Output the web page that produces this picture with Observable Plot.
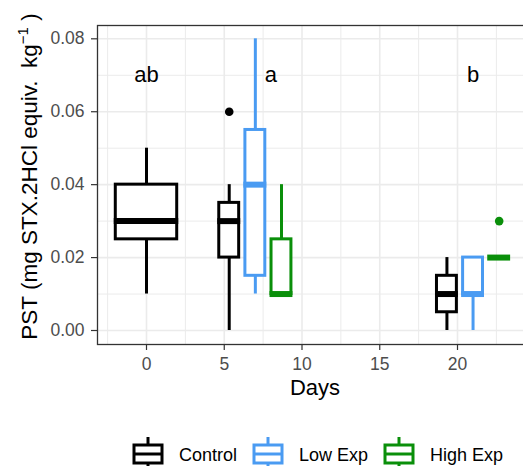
<!DOCTYPE html>
<html>
<head>
<meta charset="utf-8">
<script src="https://cdn.jsdelivr.net/npm/d3@7"></script>
<script src="https://cdn.jsdelivr.net/npm/@observablehq/plot@0.6"></script>
<style>
  html, body { margin: 0; padding: 0; background: #fff; overflow: hidden; width: 523px; height: 466px; }
  body { position: relative; font-family: "Liberation Sans", Arial, sans-serif; }
  #chart { width: 532px; }
  #chart svg { display: block; max-width: none !important; width: 532px !important; height: 420px !important; }
  #legend { position: absolute; top: 436px; left: 132px; width: 420px; display: flex; align-items: flex-start; white-space: nowrap; }
  #legend .item { display: flex; align-items: flex-start; margin-right: 15px; flex: none; }
  #legend .lab { font-size: 18px; line-height: 18px; margin-top: 10px; margin-left: 15px; color: #000; white-space: nowrap; }
</style>
</head>
<body>
<div id="chart"></div>
<div id="legend"></div>
<script>
// ---- data ----
const groups = ["Control", "Low Exp", "High Exp"];
const groupColors = ["#000000", "#4A9BF2", "#0A8F0A"];

const boxDay      = [0, 7, 7, 7, 21, 21, 21];
const boxGroup    = ["Control", "Control", "Low Exp", "High Exp", "Control", "Low Exp", "High Exp"];
const whiskerLow  = [0.010, 0.000, 0.010, 0.010, 0.000, 0.000, 0.020];
const quartileLow = [0.025, 0.020, 0.015, 0.010, 0.005, 0.010, 0.020];
const medianVal   = [0.030, 0.030, 0.040, 0.010, 0.010, 0.010, 0.020];
const quartileUp  = [0.040, 0.035, 0.055, 0.025, 0.015, 0.020, 0.020];
const whiskerUp   = [0.050, 0.040, 0.080, 0.040, 0.020, 0.020, 0.020];

const outlierDay   = [7, 21];
const outlierGroup = ["Control", "High Exp"];
const outlierValue = [0.060, 0.030];

const letterDay   = [0, 8, 21];
const letterValue = [0.07, 0.07, 0.07];
const letterText  = ["ab", "a", "b"];

const xTicks = [0, 5, 10, 15, 20];
const xMinor = [-2.5, 2.5, 7.5, 12.5, 17.5, 22.5];
const yTicks = [0, 0.02, 0.04, 0.06, 0.08];
const yMinor = [0.01, 0.03, 0.05, 0.07];

// ---- layout helpers (dodge) ----
const SPACING = 1.68, DODGE_W = 1.28, SINGLE_W = 3.95;
function dodge(day, group) {
  const present = groups.filter(g => boxDay.some((d, i) => d === day && boxGroup[i] === g));
  const n = present.length, i = present.indexOf(group);
  return { c: day + (i - (n - 1) / 2) * SPACING, w: n === 1 ? SINGLE_W : DODGE_W };
}

const boxes = boxDay.map((day, i) => {
  const p = dodge(day, boxGroup[i]);
  return {
    group: boxGroup[i], c: p.c, x1: p.c - p.w / 2, x2: p.c + p.w / 2,
    ymin: whiskerLow[i], lower: quartileLow[i], middle: medianVal[i],
    upper: quartileUp[i], ymax: whiskerUp[i]
  };
});
const outliers = outlierDay.map((day, i) => ({ group: outlierGroup[i], c: dodge(day, outlierGroup[i]).c, v: outlierValue[i] }));
const letters = letterDay.map((d, i) => ({ d, v: letterValue[i], t: letterText[i] }));

const gridColor = "#ebebeb";

const plot = Plot.plot({
  width: 532,
  height: 420,
  marginLeft: 97,
  marginRight: 0,
  marginTop: 25,
  marginBottom: 76,
  style: { fontFamily: "Liberation Sans, Arial, sans-serif", background: "#fff", overflow: "visible", maxWidth: "none" },
  x: { domain: [-3.151, 24.823], ticks: xTicks, tickSize: 6, tickPadding: 7, label: null },
  y: { domain: [-0.00384, 0.08365], ticks: yTicks, tickSize: 6, tickPadding: 7, tickFormat: d3.format(".2f"), label: null },
  color: { domain: groups, range: groupColors },
  marks: [
    Plot.ruleX(xMinor, { stroke: gridColor, strokeWidth: 1 }),
    Plot.ruleY(yMinor, { stroke: gridColor, strokeWidth: 1 }),
    Plot.ruleX(xTicks, { stroke: gridColor, strokeWidth: 1.6 }),
    Plot.ruleY(yTicks, { stroke: gridColor, strokeWidth: 1.6 }),
    Plot.axisX({ ticks: xTicks, tickSize: 6, tickPadding: 7, fontSize: 17.5, color: "#4d4d4d", stroke: "#333", strokeWidth: 1.2, label: null }),
    Plot.axisY({ ticks: yTicks, tickSize: 6, tickPadding: 7, tickFormat: d3.format(".2f"), fontSize: 17.5, color: "#4d4d4d", stroke: "#333", strokeWidth: 1.2, label: null }),
    Plot.ruleX(boxes, { x: "c", y1: "ymin", y2: "lower", stroke: "group", strokeWidth: 3 }),
    Plot.ruleX(boxes, { x: "c", y1: "upper", y2: "ymax", stroke: "group", strokeWidth: 3 }),
    Plot.rect(boxes, { x1: "x1", x2: "x2", y1: "lower", y2: "upper", fill: "#fff", stroke: "group", strokeWidth: 3 }),
    Plot.ruleY(boxes, { y: "middle", x1: "x1", x2: "x2", stroke: "group", strokeWidth: 6, insetLeft: -1.5, insetRight: -1.5 }),
    Plot.dot(outliers, { x: "c", y: "v", fill: "group", r: 4.3, stroke: null }),
    Plot.text(letters, { x: "d", y: "v", text: "t", fontSize: 22, fill: "#000" }),
    Plot.text(["Days"], { frameAnchor: "bottom", dy: 50, text: d => d, fontSize: 22, fill: "#000" }),
    Plot.frame({ stroke: "#333", strokeWidth: 1.3 })
  ]
});

// y-axis title with superscript
const svg = d3.select(plot);
const yt = svg.append("text")
  .attr("transform", "translate(37,176.5) rotate(-90)")
  .attr("text-anchor", "middle")
  .attr("font-size", 22.5)
  .attr("fill", "#000")
  .attr("font-family", "Liberation Sans, Arial, sans-serif")
  .attr("xml:space", "preserve");
yt.append("tspan").text("PST (mg STX.2HCl equiv.  kg");
yt.append("tspan").attr("font-size", 15).attr("dy", -9).text("\u22121");
yt.append("tspan").attr("dy", 9).text(" )");

document.getElementById("chart").appendChild(plot);

// legend
const legend = d3.select("#legend");
groups.forEach((g, i) => {
  const item = legend.append("div").attr("class", "item");
  const k = item.append("svg").attr("width", 32).attr("height", 30);
  const col = groupColors[i];
  k.append("line").attr("x1", 16).attr("x2", 16).attr("y1", 1).attr("y2", 9).attr("stroke", col).attr("stroke-width", 3);
  k.append("line").attr("x1", 16).attr("x2", 16).attr("y1", 27).attr("y2", 30).attr("stroke", col).attr("stroke-width", 3);
  k.append("rect").attr("x", 2).attr("y", 9).attr("width", 28).attr("height", 18).attr("fill", "#fff").attr("stroke", col).attr("stroke-width", 3);
  k.append("line").attr("x1", 2).attr("x2", 30).attr("y1", 18).attr("y2", 18).attr("stroke", col).attr("stroke-width", 3);
  item.append("div").attr("class", "lab").text(g);
});
</script>
</body>
</html>
